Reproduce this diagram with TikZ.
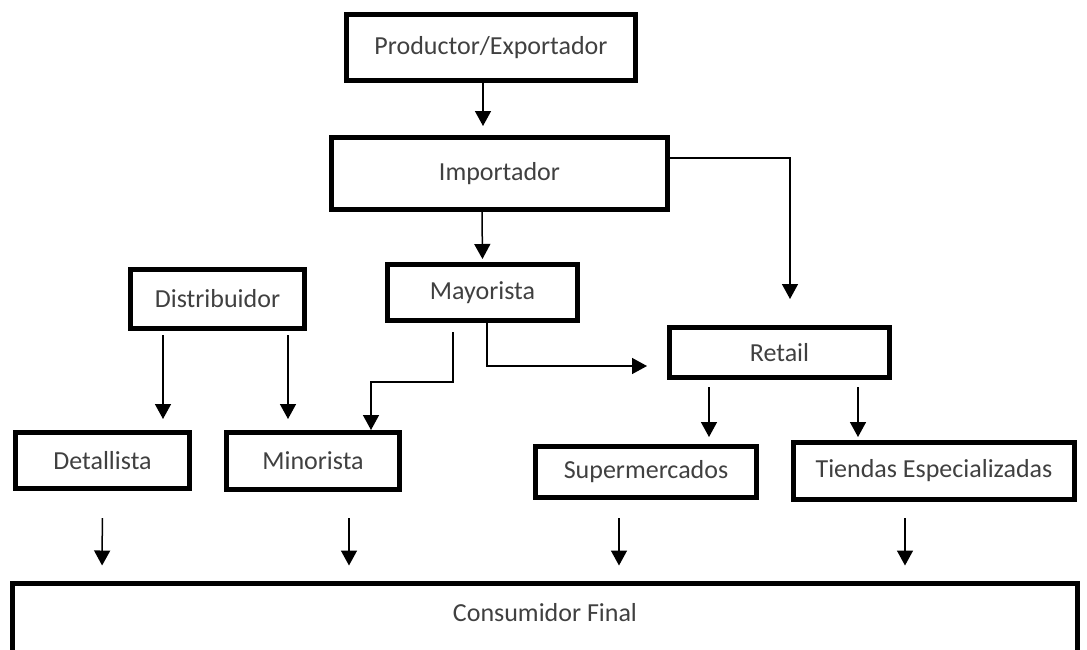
\documentclass[tikz,border=0pt]{standalone}
\usepackage{fontspec}
\setmainfont{Carlito}
\usetikzlibrary{arrows.meta}
\definecolor{txtgray}{HTML}{404040}

\begin{document}
\begin{tikzpicture}[x=1pt, y=-1pt,
    box/.style={draw, line width=5pt, text=txtgray, inner sep=0pt,
      font=\fontsize{26}{30}\selectfont},
    arr/.style={line width=1.5pt, -{Triangle[length=15pt, width=16pt]}}]
  \useasboundingbox (0,0) rectangle (1087,649);
  \clip (0,0) rectangle (1087,649);

  % cadena de arriba
  \node[box, minimum width=289, minimum height=66] (prod) at (491,47.5) {Productor/Exportador};
  \node[box, minimum width=336, minimum height=72] (imp) at (499.5,173.5) {Importador};
  \node[box, minimum width=190, minimum height=56] (may) at (482.5,292.5) {Mayorista};
  \node[box, minimum width=174, minimum height=59] (dist) at (217.5,299) {Distribuidor};
  \node[box, minimum width=220, minimum height=50] (ret) at (779.5,352.5) {Retail};

  % puntos de venta
  \node[box, minimum width=174, minimum height=56] (deta) at (102.5,460.5) {Detallista};
  \node[box, minimum width=173, minimum height=57] (mino) at (313,461) {Minorista};
  \node[box, minimum width=221, minimum height=51] (super) at (646,472) {Supermercados};
  \node[box, minimum width=281, minimum height=57] (tien) at (934,471) {Tiendas Especializadas};
  \node[box, minimum width=1065, minimum height=74, text depth=14.5pt] (cons) at (545,620) {Consumidor Final};

  % flechas
  \draw[arr, shorten >=9pt] ([xshift=-8]prod.south) -- ([xshift=-16.5]imp.north);
  \draw[arr, shorten >=3pt] ([xshift=-17.5]imp.south) -- (may.north);
  \draw[arr, shorten >=26pt] ([yshift=15.5]imp.east) -| ([xshift=10.5]ret.north);
  \draw[arr] ([xshift=-29.5, yshift=-9]may.south) -- ++(0,50) -| ([xshift=58]mino.north);
  \draw[arr, shorten >=20pt] ([xshift=4.5]may.south) |- ([yshift=-13.5]ret.west);
  \draw[arr, shorten <=4pt, shorten >=11pt] ([xshift=-54.5]dist.south) -- ([xshift=60.5]deta.north);
  \draw[arr, shorten <=4pt, shorten >=11pt] ([xshift=70.5]dist.south) -- ([xshift=-25]mino.north);
  \draw[arr, shorten <=7pt, shorten >=7pt] ([xshift=-70.5]ret.south) -- ([xshift=63]super.north);
  \draw[arr, shorten <=7pt, shorten >=3pt] ([xshift=78.5]ret.south) -- ([xshift=-76]tien.north);

  % al consumidor
  \draw[arr, shorten <=27pt, shorten >=15pt] (deta.south) -- ([xshift=-443]cons.north);
  \draw[arr, shorten <=26pt, shorten >=15pt] ([xshift=36]mino.south) -- ([xshift=-196]cons.north);
  \draw[arr, shorten <=18pt, shorten >=15pt] ([xshift=-27]super.south) -- ([xshift=74]cons.north);
  \draw[arr, shorten <=16pt, shorten >=15pt] ([xshift=-29]tien.south) -- ([xshift=360]cons.north);
\end{tikzpicture}
\end{document}
